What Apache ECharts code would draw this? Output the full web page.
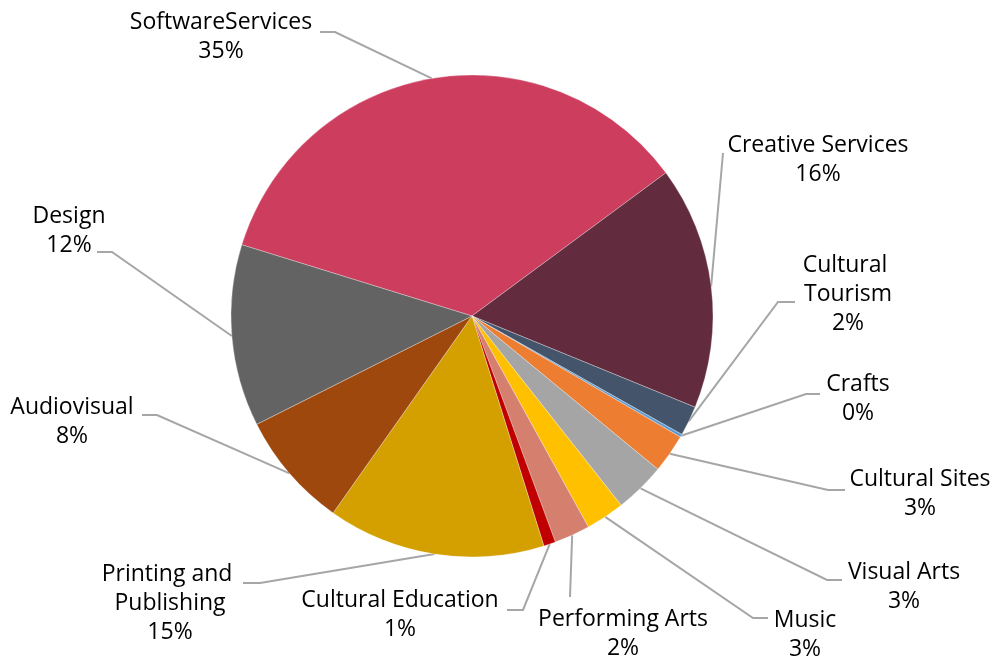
<!DOCTYPE html>
<html>
<head>
<meta charset="utf-8">
<script src="https://cdn.jsdelivr.net/npm/echarts@6/dist/echarts.min.js"></script>
<style>
  html, body { margin: 0; padding: 0; background: #ffffff; }
  #chart { width: 998px; height: 661px; }
</style>
</head>
<body>
<div id="chart"></div>
<script>
// Sectors in clockwise order, starting with SoftwareServices
const categories = [
  'SoftwareServices', 'Creative Services', 'Cultural Tourism', 'Crafts',
  'Cultural Sites', 'Visual Arts', 'Music', 'Performing Arts',
  'Cultural Education', 'Printing and Publishing', 'Audiovisual', 'Design'
];
// Share of the total, in percent
const shares = [35.1, 16.3, 2.0, 0.2, 2.6, 3.4, 2.6, 2.4, 0.8, 14.6, 7.8, 12.2];

const sliceColors = [
  '#CD3D5E', '#622C3E', '#44546A', '#5B9BD5', '#ED7D31', '#A5A5A5',
  '#FFC000', '#D5806F', '#C00000', '#D4A000', '#9E480E', '#636363'
];

// Label placement: centre of each text block, the point where its leader
// line meets it, and the signed length of the short horizontal run.
const labelSpots = [
  { x: 221, y: 37,  end: [320, 32],  run: 15 },
  { x: 818, y: 160, end: [723, 153], run: 0 },
  { x: 848, y: 294, end: [795, 302], run: -17 },
  { x: 858, y: 399, end: [820, 394], run: -14 },
  { x: 920, y: 494, end: [845, 490], run: -17 },
  { x: 904, y: 587, end: [842, 580], run: -15 },
  { x: 805, y: 635, end: [768, 618], run: -15 },
  { x: 623, y: 634, end: [570, 597], run: 0 },
  { x: 400, y: 615, end: [507, 610], run: 16 },
  { x: 170, y: 603, end: [243, 583], run: 17 },
  { x: 72,  y: 422, end: [142, 415], run: 15 },
  { x: 69,  y: 231, end: [97, 252],  run: 15 }
];
// Labels that wrap onto two lines get a text width
const wrapWidths = { 'Cultural Tourism': 115, 'Printing and Publishing': 155 };

const chart = echarts.init(document.getElementById('chart'), null, { renderer: 'canvas' });

// Middle of a sector's outer arc, taken from the pie layout
function arcMidpoint(idx, fallback) {
  try {
    const series = chart.getModel().getSeriesByIndex(0);
    const lay = series.getData().getItemLayout(idx);
    if (lay && lay.r != null) {
      const a = (lay.startAngle + lay.endAngle) / 2;
      return [lay.cx + lay.r * Math.cos(a), lay.cy + lay.r * Math.sin(a)];
    }
  } catch (e) { /* use the default leader start */ }
  return fallback;
}

const pieData = categories.map(function (name, i) {
  const item = { name: name, value: shares[i], itemStyle: { color: sliceColors[i] } };
  if (wrapWidths[name]) {
    item.label = { width: wrapWidths[name], overflow: 'break' };
  }
  return item;
});

chart.setOption({
  animation: false,
  backgroundColor: '#ffffff',
  series: [{
    type: 'pie',
    center: [472, 316],
    radius: 241,
    startAngle: 162.8,
    clockwise: true,
    avoidLabelOverlap: false,
    percentPrecision: 0,
    itemStyle: { borderColor: 'rgba(255,255,255,0.6)', borderWidth: 0.5 },
    label: {
      show: true,
      position: 'outside',
      formatter: '{b}\n{d}%',
      fontFamily: 'Open Sans',
      fontSize: 23,
      lineHeight: 29,
      color: '#000000',
      align: 'center'
    },
    labelLine: {
      show: true,
      length: 20,
      length2: 15,
      smooth: false,
      lineStyle: { color: '#A6A6A6', width: 2 }
    },
    labelLayout: function (p) {
      const s = labelSpots[p.dataIndex];
      const dflt = p.labelLinePoints ? p.labelLinePoints[0] : null;
      const start = arcMidpoint(p.dataIndex, dflt);
      const elbow = [s.end[0] + s.run, s.end[1]];
      const out = { x: s.x, y: s.y, align: 'center', verticalAlign: 'middle' };
      if (start) out.labelLinePoints = [start, elbow, s.end.slice()];
      return out;
    },
    emphasis: { disabled: true },
    data: pieData
  }]
});
</script>
</body>
</html>
